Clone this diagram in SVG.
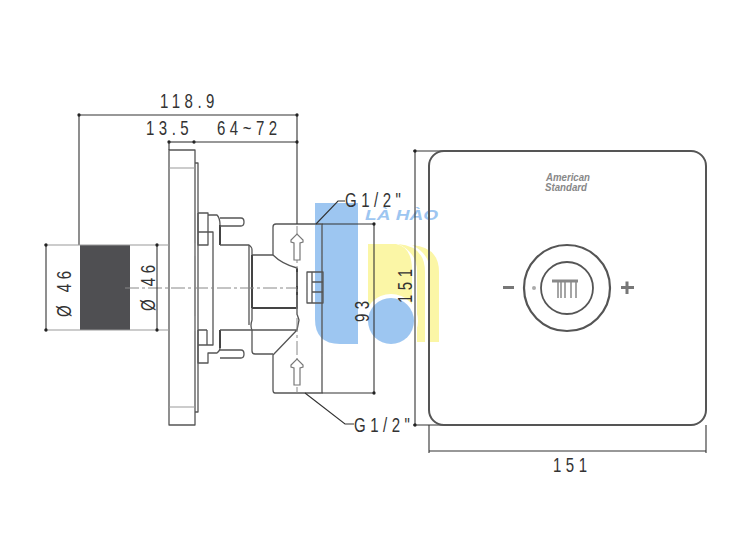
<svg xmlns="http://www.w3.org/2000/svg" width="750" height="560" viewBox="0 0 750 560">
<style>
.l{fill:none;stroke:#555;stroke-width:1.3;stroke-linejoin:round}
.t{fill:none;stroke:#444;stroke-width:2;stroke-linejoin:round}
.g{fill:none;stroke:#999;stroke-width:1}
.d{fill:none;stroke:#333;stroke-width:1.1}
.c{fill:none;stroke:#888;stroke-width:1;stroke-dasharray:14 3 3 3}
.x{font-family:"Liberation Sans",Arial,sans-serif;font-size:20px;fill:#333;letter-spacing:6px}
</style>
<defs>
<marker id="a" viewBox="0 0 6 6" refX="3" refY="3" markerWidth="4.500" markerHeight="4.500" orient="auto"><circle cx="3" cy="3" r="2" fill="#222"/></marker>
<path id="arrow" d="M-3 14V-3L-6-4V-6L0-12 6-6V-4L3-3V14Z" fill="#fff" stroke="#777" stroke-width="1.2"/>
</defs>
<rect width="750" height="560" fill="#fff"/>
<g id="watermark">
<path d="M315 203H358V344H340Q315 344 315 319Z" fill="#9dc6f1"/>
<path d="M368 244H396Q412 247 412 270V305H368Z" fill="#fbf6a6"/>
<path d="M398 244Q425 246 425 272V342H417V272Q417 252 398 244Z" fill="#fbf6a6"/>
<path d="M412 245Q439 247 439 272V342H430V272Q430 254 412 245Z" fill="#fbf6a6"/>
<circle cx="391" cy="321" r="27" fill="#fff"/>
<circle cx="391" cy="321" r="23" fill="#9dc6f1"/>
<text x="365" y="220" font-family="Liberation Sans,sans-serif" font-size="14" font-weight="bold" font-style="italic" fill="#9dc6f1" textLength="73" lengthAdjust="spacingAndGlyphs">LÀ HÀO</text>
</g>
<g id="side-view">
<rect x="80" y="245" width="50" height="85" fill="#4f4f52"/>
<path class="l" d="M169 150H195V425H169Z"/>
<path class="g" d="M169 168H195M169 407H195"/>
<path class="l" d="M195 163H198V412H195"/>
<path class="g" d="M195 243V256M195 316V331"/>
<path class="l" d="M198 213H208V245H198V213M198 232H213V345H207V330M208 215H217Q220 218 220 225M198 330H207M198 330V363H208V353H217Q220 351 220 348M198 345H213"/>
<path class="t" d="M220 225V245M220 330V348"/>
<path class="l" d="M220 218H241Q244 218 244 222Q244 226 241 226H220M220 350H241Q244 350 244 354Q244 358 241 358H220"/>
<path class="l" d="M220 245H249Q252 247 252 250V255H273V227Q273 224 276 224H322V393H275Q273 393 273 390V355L297 330H220"/>
<path class="l" d="M249 245V325M252 330V351Q252 354 255 354H273"/>
<path class="l" d="M273 255Q282 264 297 268V308H252V255M252 308V320Q250 326 252 330"/>
<path class="t" d="M252 255V308M297 268V308H252"/>
<path class="l" d="M297 308V314L299 320L297 330"/>
<path class="l" d="M307 272H323V303H307ZM312 272V303M312 282H323M312 292H323"/>
<path class="c" d="M125 288H297M297 226V393"/>
<use href="#arrow" x="297" y="246"/>
<use href="#arrow" x="297" y="371"/>
</g>
<g id="connectors">
<path class="d" d="M79 115V245M297 115V224"/>
<path class="d" d="M79 115H297" marker-end="url(#a)" marker-start="url(#a)"/>
<path class="d" d="M169 142H194" marker-start="url(#a)" marker-end="url(#a)"/>
<path class="d" d="M194 142H297" marker-end="url(#a)"/>
<path class="d" d="M169 142V150"/>
<path class="g" d="M44 245H169M44 330H169"/>
<path class="d" d="M46 245V330" marker-start="url(#a)" marker-end="url(#a)"/>
<path class="d" d="M157 245V330" marker-start="url(#a)" marker-end="url(#a)"/>
<path class="d" d="M316 224L338 201H345M305 393L345 424H354"/>
<path class="d" d="M322 224H374M322 393H374"/>
<path class="d" d="M374 224V393" marker-start="url(#a)" marker-end="url(#a)"/>
<path class="d" d="M413 151H445M413 425H445"/>
<path class="d" d="M415 151V425" marker-start="url(#a)" marker-end="url(#a)"/>
<path class="d" d="M429 425V453M706 425V453"/>
<path class="d" d="M429 451H706"/>
</g>
<g id="front-view">
<rect x="429" y="151" width="277" height="274" rx="15" fill="none" stroke="#555" stroke-width="2"/>
<circle cx="567" cy="288" r="43" fill="none" stroke="#555" stroke-width="2.200"/>
<circle cx="567" cy="288" r="26" fill="none" stroke="#555" stroke-width="1.800"/>
<circle cx="534" cy="288" r="2" fill="#aaa"/>
<path d="M503 287.500H514" stroke="#777" stroke-width="3"/>
<path d="M621 287.500H634M627 281.500V294" stroke="#777" stroke-width="3"/>
<path d="M552 281H578" stroke="#888" stroke-width="3"/>
<path d="M558 282V298M561 282V298M565 282V298M571 282V298M576 282V298" stroke="#888" stroke-width="1.500"/>
<text x="546" y="181" font-family="Liberation Sans,sans-serif" font-size="10" font-weight="bold" font-style="italic" fill="#888" textLength="44" lengthAdjust="spacingAndGlyphs">American</text>
<text x="545" y="191" font-family="Liberation Sans,sans-serif" font-size="10" font-weight="bold" font-style="italic" fill="#888" textLength="42" lengthAdjust="spacingAndGlyphs">Standard</text>
</g>
<g id="labels">
<text class="x" transform="translate(160,108) scale(.75,1)">118.9</text>
<text class="x" transform="translate(146,135) scale(.75,1)">13.5</text>
<text class="x" transform="translate(217,135) scale(.75,1)">64~72</text>
<text class="x" transform="translate(345,207) scale(.75,1)">G1/2"</text>
<text class="x" transform="translate(354,432) scale(.75,1)">G1/2"</text>
<text class="x" transform="translate(553,472) scale(.75,1)">151</text>
<text class="x" transform="translate(71,317) rotate(-90) scale(.75,1)">Ø 46</text>
<text class="x" transform="translate(155,311) rotate(-90) scale(.75,1)">Ø 46</text>
<text class="x" transform="translate(369,322) rotate(-90) scale(.75,1)">93</text>
<text class="x" transform="translate(412,303) rotate(-90) scale(.75,1)">151</text>
</g>
</svg>
